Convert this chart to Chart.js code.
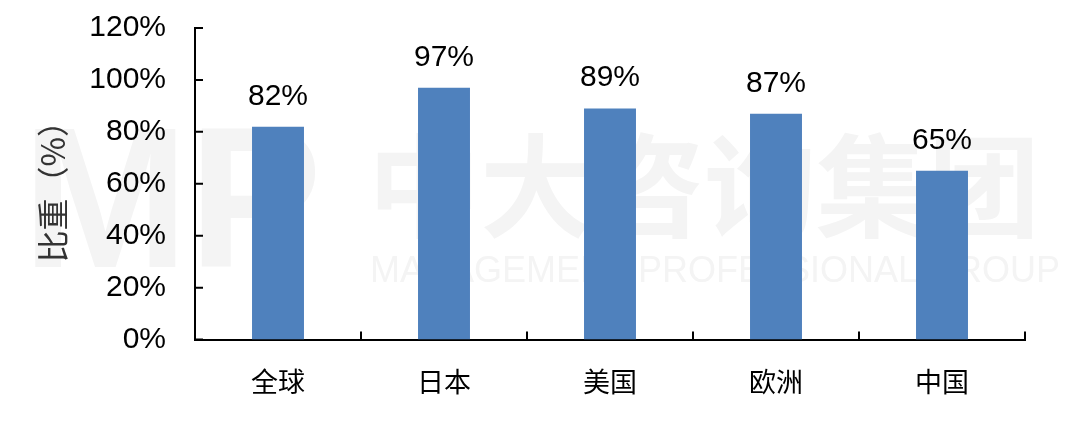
<!DOCTYPE html>
<html>
<head>
<meta charset="utf-8">
<script src="https://cdn.jsdelivr.net/npm/chart.js@4/dist/chart.umd.min.js"></script>
<style>
  html, body { margin: 0; padding: 0; background: #fff; }
  #wrap { width: 1080px; height: 421px; }
</style>
</head>
<body>
<div id="wrap"><canvas id="share-chart"></canvas></div>
<script>
const regions = ['全球', '日本', '美国', '欧洲', '中国'];
const shares = [82, 97, 89, 87, 65];
const yTicks = [0, 20, 40, 60, 80, 100, 120];

const numFont = '"Liberation Sans", Arial, sans-serif';
const cjkFont = '"Noto Sans CJK SC", sans-serif';

// faint company watermark behind the chart
const watermark = {
    id: 'watermark',
    beforeDraw(chart) {
        const ctx = chart.ctx;
        ctx.save();
        ctx.fillStyle = '#f4f4f4';
        ctx.textBaseline = 'middle';
        ctx.textAlign = 'left';
        ctx.font = 'bold 200px ' + numFont;
        ctx.fillText('MP', 22, 212);
        ctx.font = 'bold 112px ' + cjkFont;
        ctx.fillText('中大咨询集团', 368, 186);
        ctx.font = '36px ' + numFont;
        ctx.fillText('MANAGEMENT PROFESSIONAL GROUP', 370, 272);
        ctx.restore();
    }
};

// short tick marks pointing into the plot, plus value labels on bars
const marks = {
    id: 'marks',
    afterDraw(chart) {
        const ctx = chart.ctx;
        const x = chart.scales.x, y = chart.scales.y;
        ctx.save();
        ctx.strokeStyle = '#000';
        ctx.lineWidth = 2;
        ctx.beginPath();
        yTicks.forEach(v => {
            const py = y.getPixelForValue(v);
            ctx.moveTo(x.left, py);
            ctx.lineTo(x.left + 8, py);
        });
        for (let i = 1; i <= regions.length; i++) {
            const px = x.getPixelForValue(i - 0.5);
            ctx.moveTo(px, y.bottom);
            ctx.lineTo(px, y.bottom - 8);
        }
        ctx.stroke();

        ctx.fillStyle = '#000';
        ctx.font = '30px ' + numFont;
        ctx.textAlign = 'center';
        ctx.textBaseline = 'alphabetic';
        chart.getDatasetMeta(0).data.forEach((bar, i) => {
            ctx.fillText(shares[i] + '%', bar.x, bar.y - 22);
        });
        ctx.restore();
    }
};

new Chart(document.getElementById('share-chart').getContext('2d'), {
    type: 'bar',
    data: {
        labels: regions,
        datasets: [{
            data: shares,
            backgroundColor: '#4f81bd',
            barPercentage: 0.313,
            categoryPercentage: 1
        }]
    },
    options: {
        responsive: true,
        maintainAspectRatio: false,
        animation: false,
        layout: { padding: { left: 0, right: 55, top: 28, bottom: -3 } },
        plugins: {
            legend: { display: false },
            tooltip: { enabled: false }
        },
        scales: {
            x: {
                grid: { display: false, drawTicks: false },
                border: { color: '#000', width: 2 },
                ticks: {
                    color: '#000',
                    padding: 26,
                    font: { family: cjkFont, size: 27 }
                }
            },
            y: {
                min: 0,
                max: 120,
                afterBuildTicks: axis => { axis.ticks = yTicks.map(v => ({ value: v })); },
                afterFit: axis => {
                    axis.width = 195;
                    axis.paddingTop = 0;
                    axis.paddingBottom = 0;
                },
                grid: { display: false, drawTicks: false },
                border: { color: '#000', width: 2 },
                ticks: {
                    color: '#000',
                    padding: 29,
                    font: { family: numFont, size: 30 },
                    callback: v => v + '%'
                },
                title: {
                    display: true,
                    text: '比重（%）',
                    color: '#333',
                    padding: { top: 34, bottom: 0 },
                    font: { family: cjkFont, size: 32 }
                }
            }
        }
    },
    plugins: [watermark, marks]
});
</script>
</body>
</html>
